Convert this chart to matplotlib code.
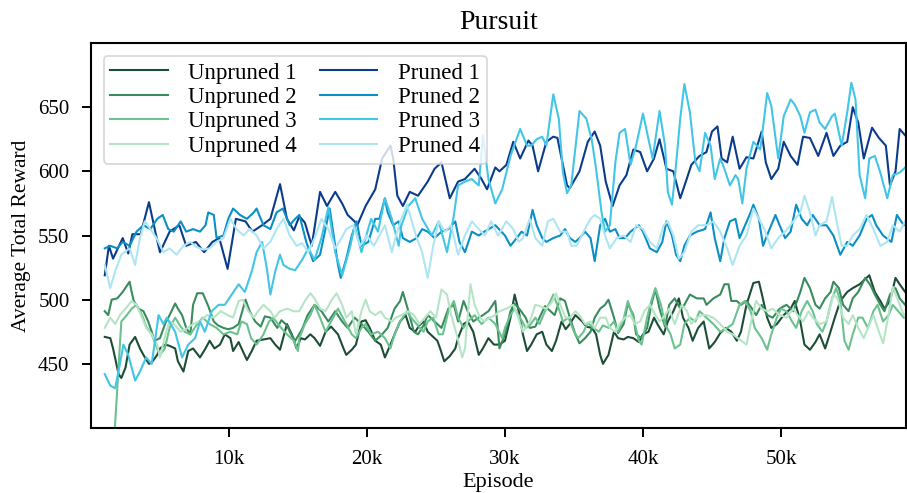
import numpy as np
import matplotlib
matplotlib.use("Agg")
import matplotlib.pyplot as plt
from matplotlib.ticker import FuncFormatter

# ---- data: (episode in thousands, average total reward) ----
unpruned_1 = [(1.0,471),(1.4,470),(1.6,462),(2.0,442),(2.2,439),(2.5,447),(2.8,465),(3.2,471),(3.55,462),(3.8,457),
    (4.2,450),(4.4,451),(4.8,457),(5.0,462),(5.4,465),(5.7,464),(6.1,462),(6.3,452),(6.7,444),(7.05,460),(7.4,462),
    (7.9,455),(8.3,462),(8.6,468),(8.95,462),(9.35,465),(9.7,473),(10.1,470),(10.3,460),(10.7,467),(11.0,460),
    (11.3,453),(11.65,460),(12.0,468),(12.5,469),(13.0,470),(13.35,465),(13.7,461),(14.2,481),(14.55,473),(14.9,462),
    (15.2,470),(15.5,469),(15.9,473),(16.2,470),(16.6,464),(17.0,475),(17.4,479),(17.9,473),(18.3,462),(18.5,457),
    (18.9,461),(19.2,465),(19.6,483),(19.9,484),(20.2,478),(20.6,468),(21.0,465),(21.3,455),(21.7,465),(22.0,473),
    (22.4,483),(22.8,488),(23.1,478),(23.5,475),(23.8,480),(24.1,483),(24.4,475),(25.1,468),(25.3,462),(25.6,452),
    (26.0,456),(26.4,462),(26.6,470),(27.0,481),(27.3,483),(27.7,475),(28.1,457),(28.4,462),(28.8,470),(29.2,465),
    (29.6,465),(30.0,468),(30.4,486),(30.7,504),(31.0,491),(31.3,473),(31.6,460),(31.9,465),(32.3,473),(32.7,475),
    (33.0,465),(33.4,460),(33.7,468),(34.1,483),(34.4,477),(34.7,481),(35.1,488),(35.6,483),(35.9,479),(36.3,478),
    (36.6,473),(36.9,457),(37.1,450),(37.5,457),(37.9,475),(38.2,470),(38.6,469),(38.9,471),(39.3,470),(39.7,467),
    (40.0,473),(40.4,475),(40.8,486),(41.1,480),(41.5,473),(41.8,483),(42.2,491),(42.6,501),(42.9,486),(43.3,478),
    (43.6,468),(44.0,478),(44.4,483),(44.8,462),(45.2,467),(45.6,474),(46.0,478),(46.4,475),(46.8,468),(47.1,475),
    (47.5,496),(48.0,513),(48.4,514),(48.6,505),(49.0,486),(49.3,478),(49.7,481),(50.2,488),(50.7,493),(51.0,499),
    (51.4,483),(51.7,465),(52.1,461),(52.5,467),(52.8,473),(53.2,462),(53.5,472),(53.9,486),(54.3,499),(54.8,506),
    (55.2,509),(55.7,512),(56.2,517),(56.4,519),(56.8,506),(57.2,499),(57.5,493),(57.9,499),(58.3,517),(58.6,512),
    (59.0,506)]

unpruned_2 = [(1.0,491),(1.25,488),(1.5,500),(1.9,501),(2.3,506),(2.8,514),(2.95,506),(3.1,499),(3.45,493),(3.8,491),
    (4.15,483),(4.4,475),(4.6,468),(5.0,470),(5.4,482),(5.7,488),(6.1,497),(6.3,493),(6.6,488),(6.9,478),(7.2,473),
    (7.4,496),(7.7,505),(8.1,505),(8.5,495),(8.9,483),(9.2,480),(9.6,478),(9.95,477),(10.3,478),(10.7,481),(11.2,500),
    (11.5,491),(11.9,483),(12.3,479),(12.6,487),(13.0,486),(13.5,478),(13.8,484),(14.2,480),(14.5,473),(14.8,468),
    (15.3,477),(15.7,488),(16.2,496),(16.7,491),(17.2,483),(17.7,491),(18.2,483),(18.6,478),(19.1,486),(19.6,481),
    (20.1,475),(20.6,468),(21.1,473),(21.5,478),(22.0,493),(22.4,499),(22.6,506),(23.0,491),(23.4,475),(23.7,473),
    (24.1,480),(24.4,488),(24.9,483),(25.4,478),(25.9,493),(26.3,496),(26.6,483),(27.0,499),(27.3,491),(27.7,483),
    (28.1,486),(28.4,488),(28.8,491),(29.3,499),(29.6,462),(30.0,473),(30.4,491),(30.7,497),(31.1,492),(31.5,486),
    (31.8,478),(32.2,479),(32.5,486),(32.9,495),(33.3,491),(33.6,488),(34.0,501),(34.35,499),(34.7,486),(35.1,473),
    (35.4,466),(35.8,470),(36.2,475),(36.5,486),(36.9,493),(37.25,496),(37.5,500),(37.9,486),(38.2,474),(38.6,481),
    (38.9,497),(39.3,488),(39.5,473),(39.9,470),(40.3,478),(40.6,496),(40.9,508),(41.2,493),(41.6,479),(41.9,496),
    (42.3,501),(42.7,493),(43.0,496),(43.4,504),(43.9,501),(44.4,501),(44.6,496),(45.1,501),(45.6,504),(45.9,512),
    (46.2,512),(46.4,499),(46.8,499),(47.1,496),(47.5,499),(47.9,493),(48.2,488),(48.6,496),(49.0,488),(49.4,486),
    (49.9,493),(50.4,496),(50.9,491),(51.4,506),(51.7,517),(52.1,509),(52.5,496),(52.8,493),(53.2,501),(53.6,506),
    (53.8,514),(54.2,509),(54.5,496),(54.9,491),(55.2,501),(55.6,506),(56.1,517),(56.5,511),(56.8,504),(57.2,496),
    (57.5,491),(57.9,504),(58.3,509),(58.6,501),(59.0,496)]

unpruned_3 = [(1.0,270),(2.2,483),(2.6,488),(2.95,493),(3.3,496),(3.7,488),(4.0,479),(4.4,473),(4.8,462),(5.0,457),
    (5.35,462),(5.7,478),(6.1,486),(6.5,479),(6.8,475),(7.2,473),(7.7,481),(8.1,486),(8.6,481),(9.1,478),(9.6,473),
    (10.1,475),(10.6,473),(10.9,483),(11.3,481),(11.6,470),(12.0,465),(12.5,473),(12.9,483),(13.2,486),(13.7,479),
    (14.2,473),(14.7,468),(15.0,460),(15.1,470),(15.5,481),(15.9,488),(16.2,496),(16.6,486),(17.0,475),(17.4,483),
    (17.9,493),(18.4,483),(18.9,473),(19.2,470),(19.6,478),(19.9,481),(20.3,473),(20.8,475),(21.3,470),(21.7,462),
    (22.0,473),(22.4,483),(22.9,491),(23.2,486),(23.6,481),(24.1,475),(24.4,483),(24.8,486),(25.2,473),(25.5,473),
    (25.9,491),(26.3,499),(26.6,486),(27.0,478),(27.3,483),(27.8,488),(28.3,481),(28.8,486),(29.3,481),(29.8,470),
    (30.0,478),(30.4,488),(30.7,493),(31.1,486),(31.5,478),(31.8,480),(32.2,486),(32.5,481),(32.9,491),(33.3,499),
    (33.5,504),(33.9,493),(34.2,483),(34.6,486),(35.0,475),(35.3,470),(35.7,475),(36.0,482),(36.4,478),(36.8,475),
    (37.1,480),(37.5,478),(37.9,483),(38.2,475),(38.6,485),(38.9,499),(39.3,486),(39.7,468),(39.9,465),(40.3,486),
    (40.6,499),(40.9,509),(41.3,496),(41.6,481),(42.0,473),(42.3,462),(42.7,465),(43.0,481),(43.4,486),(43.8,483),
    (44.1,491),(44.6,486),(45.1,481),(45.6,475),(46.1,478),(46.5,481),(47.0,496),(47.4,499),(47.8,491),(48.1,478),
    (48.6,470),(49.0,461),(49.3,473),(49.7,486),(50.0,493),(50.4,491),(50.8,483),(51.1,478),(51.5,491),(51.9,499),
    (52.3,491),(52.6,481),(53.0,475),(53.3,483),(53.7,501),(54.0,509),(54.3,499),(54.6,468),(54.9,461),(55.2,473),
    (55.6,486),(55.9,486),(56.3,478),(56.7,491),(57.0,496),(57.4,483),(57.8,488),(58.1,496),(58.5,491),(58.9,486)]

unpruned_4 = [(1.0,478),(1.4,486),(1.75,481),(2.1,488),(2.5,493),(2.95,499),(3.3,496),(3.7,486),(4.0,478),(4.4,473),
    (4.8,465),(5.0,455),(5.4,473),(5.7,483),(6.1,480),(6.5,475),(7.0,478),(7.4,481),(7.9,483),(8.4,488),(8.9,486),
    (9.4,491),(9.9,488),(10.3,486),(10.7,499),(11.0,500),(11.4,491),(11.8,486),(12.1,491),(12.5,496),(13.0,491),
    (13.3,486),(13.7,491),(14.2,493),(14.7,491),(15.1,491),(15.5,499),(15.9,505),(16.2,501),(16.6,493),(17.0,491),
    (17.4,499),(17.8,505),(18.2,496),(18.5,486),(18.9,491),(19.2,473),(19.6,491),(19.9,500),(20.2,491),(20.6,488),
    (21.0,491),(21.3,486),(21.8,483),(22.1,486),(22.5,488),(23.0,491),(23.4,488),(23.8,481),(24.2,486),(24.6,491),
    (25.0,486),(25.4,508),(25.8,504),(26.1,488),(26.5,473),(26.9,455),(27.1,462),(27.5,512),(27.8,496),(28.2,486),
    (28.5,483),(28.9,486),(29.3,488),(29.6,491),(30.1,493),(30.6,496),(30.9,488),(31.3,475),(31.8,483),(32.2,496),
    (32.5,495),(33.0,493),(33.4,498),(33.7,505),(34.0,496),(34.4,486),(34.7,486),(35.1,491),(35.4,488),(35.8,481),
    (36.2,483),(36.5,478),(36.9,486),(37.3,486),(37.6,478),(38.0,475),(38.3,481),(38.7,486),(39.1,488),(39.4,481),
    (39.8,483),(40.1,491),(40.5,496),(40.9,488),(41.2,483),(41.6,488),(41.9,493),(42.3,481),(42.8,496),(43.2,491),
    (43.5,481),(43.9,486),(44.3,488),(44.6,488),(45.1,486),(45.6,481),(46.1,475),(46.5,473),(47.0,469),(47.5,465),
    (47.9,486),(48.2,499),(48.6,493),(49.0,491),(49.4,493),(49.9,488),(50.4,486),(50.9,493),(51.2,488),(51.6,483),
    (52.0,491),(52.3,486),(52.8,481),(53.3,483),(53.8,504),(54.1,501),(54.5,486),(54.9,481),(55.2,488),(55.6,478),
    (56.0,470),(56.3,478),(56.7,488),(57.0,478),(57.4,466),(57.8,488),(58.1,510),(58.5,499),(58.9,488)]

pruned_1 = [(1.0,519),(1.3,542),(1.6,532),(2.3,548),(2.7,536),(3.0,551),(3.6,551),(4.2,576),(4.7,551),(5.0,537),
    (5.7,553),(6.4,558),(6.9,542),(7.6,545),(8.2,537),(8.8,545),(9.3,548),(9.9,524),(10.5,563),(11.2,561),(11.7,553),
    (12.4,558),(13.0,563),(13.7,590),(14.2,563),(14.7,554),(15.1,565),(15.5,560),(16.0,542),(16.6,584),(17.1,573),
    (17.7,584),(18.2,575),(18.6,566),(19.1,561),(19.3,558),(19.9,573),(20.6,586),(21.1,610),(21.7,620),(21.9,610),
    (22.2,581),(22.6,573),(23.1,584),(23.7,581),(24.4,592),(24.9,602),(25.4,607),(26.0,579),(26.6,592),(27.1,594),
    (27.8,602),(28.3,594),(28.7,586),(29.3,603),(29.6,600),(30.1,605),(30.6,623),(31.1,610),(31.7,624),(32.0,620),
    (32.4,600),(33.0,623),(33.5,627),(33.8,626),(34.5,589),(34.7,587),(35.4,600),(36.0,623),(36.5,631),(36.9,620),
    (37.3,592),(37.8,573),(38.3,589),(38.8,597),(39.3,617),(39.8,615),(40.3,600),(40.8,610),(41.2,625),(41.7,602),
    (42.2,600),(42.7,579),(43.2,595),(43.5,605),(44.1,612),(44.6,615),(45.0,631),(45.4,635),(45.7,610),(46.1,607),
    (46.5,627),(47.0,602),(47.5,611),(48.0,610),(48.6,631),(48.9,607),(49.3,594),(49.8,602),(50.2,623),(50.7,612),
    (51.2,605),(51.6,627),(52.1,626),(52.7,612),(53.3,630),(53.8,612),(54.3,620),(54.8,623),(55.2,650),(55.6,638),
    (56.0,610),(56.6,634),(57.1,626),(57.6,620),(57.9,589),(58.3,600),(58.6,633),(59.0,628)]

pruned_2 = [(1.0,540),(1.4,542),(1.9,540),(2.3,545),(2.8,542),(3.3,553),(3.8,558),(4.3,555),(4.8,563),(5.2,566),
    (5.6,555),(6.0,553),(6.5,561),(6.9,553),(7.4,555),(7.9,553),(8.3,558),(8.5,568),(8.9,566),(9.1,548),(9.6,550),
    (9.95,563),(10.3,571),(10.8,566),(11.3,563),(11.8,568),(12.0,571),(12.5,558),(13.0,555),(13.45,568),(13.9,571),
    (14.4,558),(14.8,563),(15.1,566),(15.6,545),(16.1,530),(16.6,535),(17.1,561),(17.3,571),(17.7,542),(17.9,527),
    (18.1,517),(18.5,532),(18.9,550),(19.25,561),(19.6,542),(20.1,545),(20.6,563),(20.9,563),(21.3,579),(21.5,568),
    (21.9,558),(22.3,561),(22.6,548),(23.1,545),(23.6,548),(24.0,555),(24.4,553),(24.9,548),(25.4,553),(25.9,555),
    (26.4,561),(26.7,545),(27.1,537),(27.6,553),(28.1,550),(28.5,553),(29.3,558),(30.0,550),(30.4,542),(30.85,548),
    (31.2,553),(31.6,550),(32.0,570),(32.3,558),(32.7,548),(33.0,545),(33.5,548),(34.0,550),(34.35,555),(34.7,548),
    (35.1,545),(35.4,548),(35.8,553),(36.2,548),(36.5,530),(36.9,558),(37.25,563),(37.6,553),(38.0,555),(38.3,548),
    (38.7,548),(39.1,553),(39.7,558),(40.0,553),(40.5,540),(41.0,537),(41.4,545),(41.7,561),(42.1,550),(42.4,535),
    (42.7,530),(43.0,542),(43.4,550),(43.9,553),(44.5,555),(44.9,568),(45.2,548),(45.6,530),(45.9,548),(46.3,561),
    (46.7,563),(47.0,548),(47.4,558),(47.8,568),(48.0,574),(48.4,563),(48.7,542),(49.1,553),(49.6,566),(49.9,558),
    (50.3,548),(50.7,553),(51.1,574),(51.5,563),(51.9,558),(52.3,566),(52.8,558),(53.3,558),(53.8,550),(54.3,535),
    (54.8,545),(55.2,542),(55.7,550),(56.2,563),(56.6,566),(56.9,558),(57.4,550),(58.0,545),(58.4,566),(58.9,558)]

pruned_3 = [(1.0,442),(1.4,433),(1.75,431),(2.1,450),(2.35,465),(2.7,457),(3.2,437),(3.55,444),(4.0,455),(4.4,450),
    (4.9,488),(5.25,481),(5.5,486),(6.1,475),(6.6,455),(7.05,465),(7.55,470),(7.9,483),(8.25,475),(8.75,491),
    (9.25,496),(9.7,496),(10.2,504),(10.7,512),(11.15,506),(11.65,522),(12.0,537),(12.4,545),(12.75,524),(13.0,504),
    (13.35,522),(13.7,535),(13.95,527),(14.4,524),(14.8,523),(15.3,531),(15.75,540),(16.2,531),(16.7,548),(17.2,572),
    (17.7,537),(18.2,519),(18.8,542),(19.1,558),(19.6,537),(20.3,563),(20.8,553),(21.3,579),(21.8,563),(22.3,542),
    (22.5,558),(23.0,573),(23.5,579),(24.0,563),(24.7,550),(25.2,561),(25.8,537),(26.3,566),(26.6,589),(27.1,592),
    (27.6,594),(28.1,589),(28.4,628),(28.8,594),(29.3,575),(29.8,586),(30.4,612),(31.1,633),(31.6,620),(31.9,620),
    (32.3,625),(32.7,627),(33.0,620),(33.5,660),(33.9,641),(34.2,599),(34.5,583),(34.8,589),(35.4,647),(35.9,641),
    (36.3,624),(36.6,602),(37.0,568),(37.25,553),(37.6,558),(38.0,607),(38.3,630),(38.7,633),(39.1,605),(39.5,620),
    (40.0,645),(40.4,625),(40.7,610),(41.2,647),(41.6,620),(41.8,584),(42.1,574),(42.3,594),(42.7,641),(43.0,668),
    (43.4,646),(43.8,607),(44.1,600),(44.5,630),(44.9,620),(45.2,594),(45.6,610),(45.9,602),(46.3,589),(46.7,597),
    (46.9,594),(47.2,575),(47.5,602),(48.0,623),(48.5,617),(49.0,661),(49.3,651),(49.8,610),(50.2,643),(50.7,656),
    (51.0,652),(51.4,643),(51.7,630),(52.1,646),(52.5,648),(52.8,638),(53.2,633),(53.7,643),(53.9,645),(54.4,620),
    (54.8,646),(55.1,669),(55.4,656),(55.7,597),(56.1,579),(56.4,610),(56.8,612),(57.2,599),(57.7,579),(58.1,597),
    (58.6,599),(59.0,603)]

pruned_4 = [(1.0,527),(1.4,509),(1.75,522),(2.2,535),(2.8,540),(3.2,527),(3.55,548),(3.9,561),(4.3,555),(4.75,548),
    (5.25,537),(5.7,540),(6.2,535),(6.7,542),(7.2,545),(7.65,541),(8.15,539),(8.6,540),(9.1,545),(9.6,548),(10.1,563),
    (10.55,555),(11.05,550),(11.5,555),(12.0,550),(12.5,540),(13.0,545),(13.45,555),(13.95,563),(14.4,550),(14.9,542),
    (15.3,544),(15.75,537),(16.2,548),(16.7,563),(17.2,555),(17.7,540),(18.15,548),(18.5,555),(19.0,558),(19.5,542),
    (20.0,550),(20.5,542),(20.9,550),(21.3,558),(21.8,537),(22.1,550),(22.5,563),(22.9,574),(23.2,563),(23.6,548),
    (24.0,537),(24.4,517),(24.8,542),(25.2,561),(25.65,553),(26.1,558),(26.6,535),(27.1,550),(27.6,561),(28.1,555),
    (28.55,550),(29.0,561),(29.5,550),(30.1,561),(30.6,555),(31.0,545),(31.3,548),(31.8,563),(32.2,548),(32.7,542),
    (33.1,561),(33.5,563),(34.0,553),(34.5,553),(34.8,542),(35.2,542),(35.7,553),(36.2,563),(36.5,566),(36.9,563),
    (37.25,550),(37.6,540),(38.1,548),(38.6,550),(39.1,545),(39.5,558),(40.0,555),(40.5,545),(41.0,540),(41.5,558),
    (41.8,561),(42.2,550),(42.6,532),(43.0,537),(43.5,553),(44.0,558),(44.6,558),(45.1,561),(45.6,553),(46.1,540),
    (46.5,527),(47.0,542),(47.5,550),(48.0,571),(48.4,563),(48.8,555),(49.3,540),(49.8,548),(50.3,553),(50.9,561),
    (51.4,568),(51.7,581),(52.1,568),(52.5,550),(52.8,558),(53.3,561),(53.7,580),(54.0,563),(54.4,542),(54.8,542),
    (55.2,550),(55.7,555),(56.2,566),(56.7,555),(57.2,542),(57.7,545),(58.1,558),(58.6,553),(59.0,561)]

series_labels = ["Unpruned 1", "Unpruned 2", "Unpruned 3", "Unpruned 4",
                 "Pruned 1", "Pruned 2", "Pruned 3", "Pruned 4"]
series_data = [unpruned_1, unpruned_2, unpruned_3, unpruned_4,
               pruned_1, pruned_2, pruned_3, pruned_4]
series_colors = ["#1d4d36", "#3a8c5e", "#6cc28e", "#b5e5c6",
                 "#0b3c8c", "#0a8fc6", "#42c5e6", "#ade5f2"]
x_ticks = [10000, 20000, 30000, 40000, 50000]
y_ticks = [450, 500, 550, 600, 650]

plt.rcParams["font.family"] = ["Liberation Serif", "DejaVu Serif"]

fig = plt.figure(figsize=(9.07, 4.93), dpi=100)
ax = fig.add_axes([0.1003, 0.1318, 0.8986, 0.7810])

for label, data, color in zip(series_labels, series_data, series_colors):
    arr = np.array(data, dtype=float)
    ax.plot(arr[:, 0] * 1000, arr[:, 1], color=color, lw=1.5, label=label)

ax.set_xlim(0, 59060)
ax.set_ylim(400, 700)
ax.set_xticks(x_ticks)
ax.set_yticks(y_ticks)
ax.xaxis.set_major_formatter(FuncFormatter(lambda v, p: f"{int(round(v / 1000))}k"))
ax.tick_params(axis="both", labelsize=15, width=1.4, length=6.5, pad=9, direction="out")
for sp in ax.spines.values():
    sp.set_linewidth(1.5)
    sp.set_color("black")

ax.set_xlabel("Episode", fontsize=16, labelpad=3)
ax.set_ylabel("Average Total Reward", fontsize=15.5, labelpad=5)
ax.set_title("Pursuit", fontsize=20, pad=10)

leg = ax.legend(loc="upper left", ncol=2, fontsize=16.5, frameon=True,
                handlelength=2.5, handletextpad=0.9, columnspacing=1.0,
                labelspacing=0.15, borderaxespad=0.55, borderpad=0.3)
leg.get_frame().set_edgecolor("#cccccc")
leg.get_frame().set_linewidth(1.2)

fig.savefig("out.png", dpi=100)
